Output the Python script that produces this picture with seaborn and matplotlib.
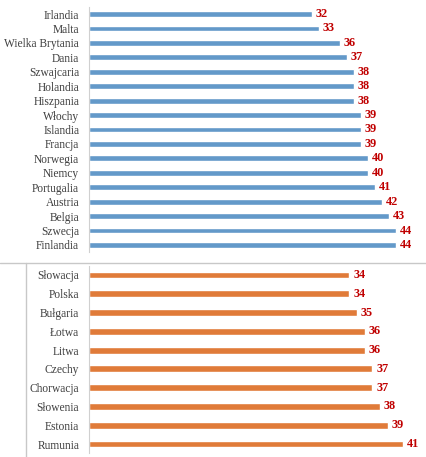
import matplotlib.pyplot as plt
import seaborn as sns
import pandas as pd
from matplotlib.lines import Line2D

# top group (blue)
countries_a = ["Irlandia", "Malta", "Wielka Brytania", "Dania", "Szwajcaria",
               "Holandia", "Hiszpania", "Włochy", "Islandia", "Francja",
               "Norwegia", "Niemcy", "Portugalia", "Austria", "Belgia",
               "Szwecja", "Finlandia"]
values_a = [32, 33, 36, 37, 38, 38, 38, 39, 39, 39, 40, 40, 41, 42, 43, 44, 44]

# bottom group (orange)
countries_b = ["Słowacja", "Polska", "Bułgaria", "Łotwa", "Litwa", "Czechy",
               "Chorwacja", "Słowenia", "Estonia", "Rumunia"]
values_b = [34, 34, 35, 36, 36, 37, 37, 38, 39, 41]

sns.set_style("white")
plt.rcParams['font.family'] = ['Liberation Serif', 'DejaVu Serif']

W, H = 427, 457
fig = plt.figure(figsize=(W / 100, H / 100), dpi=100)

def panel(rect, names, vals, color, width, xmax):
    l, t, r, b = rect
    ax = fig.add_axes([l / W, 1 - b / H, (r - l) / W, (b - t) / H])
    df = pd.DataFrame({"country": names, "value": vals})
    sns.barplot(data=df, x="value", y="country", orient="h", color=color,
                width=width, ax=ax, saturation=1)
    ax.set_xlim(0, xmax)
    ax.set_ylim(len(names) - 0.5, -0.5)
    for s in ["top", "right", "bottom"]:
        ax.spines[s].set_visible(False)
    ax.spines["left"].set_color("#d0d0d0")
    ax.spines["left"].set_linewidth(0.8)
    ax.set_xticks([])
    ax.set_xlabel("")
    ax.set_ylabel("")
    ax.tick_params(axis="y", length=0, pad=7, labelsize=8.3, labelcolor="#404040")
    for i, v in enumerate(vals):
        ax.text(v + xmax * 0.011, i, str(v), va="center", ha="left",
                color="#c00000", fontweight="bold", fontsize=8.8)
    return ax

# top panel: bars from x=89, scale ~6.98 px/unit
panel((89, 6.8, 424, 252.2), countries_a, values_a, "#6399c9", 0.4, 48)
# bottom panel: bars from x=89, scale ~7.66 px/unit
panel((89, 265.6, 426, 453.4), countries_b, values_b, "#e07b39", 0.37, 44)

# separator lines
fig.add_artist(Line2D([0, 1], [1 - 263 / H, 1 - 263 / H], color="#c8c8c8", lw=1))
fig.add_artist(Line2D([26 / W, 26 / W], [0, 1 - 263 / H], color="#c8c8c8", lw=1))

fig.savefig("out.png", dpi=100)
